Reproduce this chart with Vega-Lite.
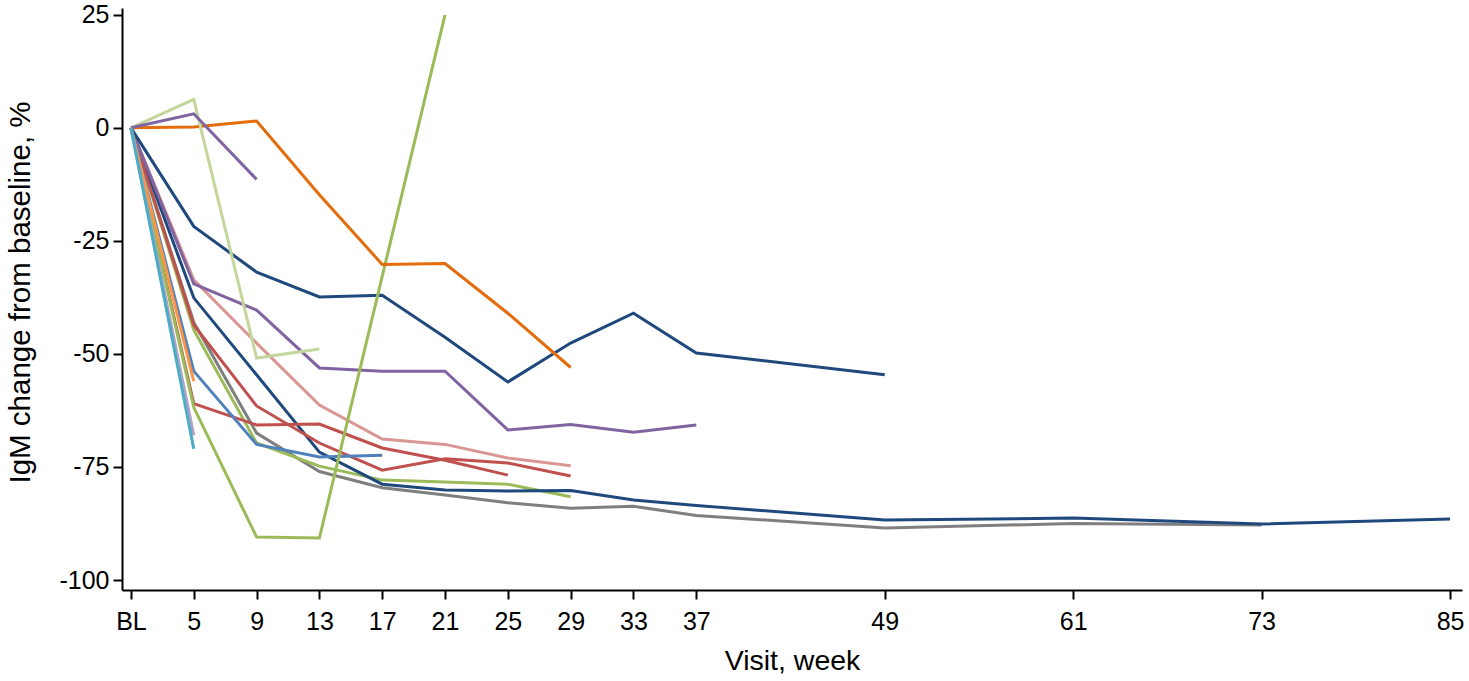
{
  "$schema": "https://vega.github.io/schema/vega-lite/v6.json",
  "width": 1340,
  "height": 582,
  "autosize": {"type": "none"},
  "padding": {"left": 122, "top": 8, "right": 7, "bottom": 91},
  "background": "white",
  "config": {
    "view": {"stroke": null},
    "font": "Liberation Sans",
    "axis": {"labelFont": "Liberation Sans", "titleFont": "Liberation Sans", "labelColor": "black", "titleColor": "black", "titleFontWeight": "normal", "domainColor": "black", "tickColor": "black", "domainWidth": 2, "tickWidth": 2, "grid": false}
  },
  "data": {
    "values": [
      {"id": "s10", "week": 1, "v": 0}, {"id": "s10", "week": 5, "v": -43}, {"id": "s10", "week": 9, "v": -67.5}, {"id": "s10", "week": 13, "v": -76}, {"id": "s10", "week": 17, "v": -79.6}, {"id": "s10", "week": 21, "v": -81.2}, {"id": "s10", "week": 25, "v": -82.9}, {"id": "s10", "week": 29, "v": -84.1}, {"id": "s10", "week": 33, "v": -83.7}, {"id": "s10", "week": 37, "v": -85.7}, {"id": "s10", "week": 49, "v": -88.5}, {"id": "s10", "week": 61, "v": -87.5}, {"id": "s10", "week": 73, "v": -87.8},
      {"id": "s11", "week": 1, "v": 0}, {"id": "s11", "week": 5, "v": -44.7}, {"id": "s11", "week": 9, "v": -69.7}, {"id": "s11", "week": 13, "v": -74.8}, {"id": "s11", "week": 17, "v": -77.9}, {"id": "s11", "week": 21, "v": -78.3}, {"id": "s11", "week": 25, "v": -78.8}, {"id": "s11", "week": 29, "v": -81.6},
      {"id": "s9", "week": 1, "v": 0}, {"id": "s9", "week": 5, "v": -37.6}, {"id": "s9", "week": 9, "v": -54.6}, {"id": "s9", "week": 13, "v": -71.7}, {"id": "s9", "week": 17, "v": -78.8}, {"id": "s9", "week": 21, "v": -80.1}, {"id": "s9", "week": 25, "v": -80.3}, {"id": "s9", "week": 29, "v": -80.2}, {"id": "s9", "week": 33, "v": -82.3}, {"id": "s9", "week": 37, "v": -83.5}, {"id": "s9", "week": 49, "v": -86.7}, {"id": "s9", "week": 61, "v": -86.3}, {"id": "s9", "week": 73, "v": -87.6}, {"id": "s9", "week": 85, "v": -86.5},
      {"id": "s7", "week": 1, "v": 0}, {"id": "s7", "week": 5, "v": -43.6}, {"id": "s7", "week": 9, "v": -61.5}, {"id": "s7", "week": 13, "v": -69.7}, {"id": "s7", "week": 17, "v": -75.7}, {"id": "s7", "week": 21, "v": -73.2}, {"id": "s7", "week": 25, "v": -74.1}, {"id": "s7", "week": 29, "v": -77},
      {"id": "s8", "week": 1, "v": 0}, {"id": "s8", "week": 5, "v": -61}, {"id": "s8", "week": 9, "v": -65.7}, {"id": "s8", "week": 13, "v": -65.5}, {"id": "s8", "week": 17, "v": -70.8}, {"id": "s8", "week": 21, "v": -73.5}, {"id": "s8", "week": 25, "v": -76.8},
      {"id": "s6", "week": 1, "v": 0}, {"id": "s6", "week": 5, "v": -33.6}, {"id": "s6", "week": 9, "v": -47.6}, {"id": "s6", "week": 13, "v": -61.3}, {"id": "s6", "week": 17, "v": -68.8}, {"id": "s6", "week": 21, "v": -70}, {"id": "s6", "week": 25, "v": -73}, {"id": "s6", "week": 29, "v": -74.7},
      {"id": "s5", "week": 1, "v": 0}, {"id": "s5", "week": 5, "v": -34.5}, {"id": "s5", "week": 9, "v": -40.3}, {"id": "s5", "week": 13, "v": -53.1}, {"id": "s5", "week": 17, "v": -53.8}, {"id": "s5", "week": 21, "v": -53.8}, {"id": "s5", "week": 25, "v": -66.8}, {"id": "s5", "week": 29, "v": -65.6}, {"id": "s5", "week": 33, "v": -67.3}, {"id": "s5", "week": 37, "v": -65.7},
      {"id": "s4", "week": 1, "v": 0}, {"id": "s4", "week": 5, "v": -21.8}, {"id": "s4", "week": 9, "v": -31.9}, {"id": "s4", "week": 13, "v": -37.4}, {"id": "s4", "week": 17, "v": -37}, {"id": "s4", "week": 21, "v": -46.3}, {"id": "s4", "week": 25, "v": -56.2}, {"id": "s4", "week": 29, "v": -47.6}, {"id": "s4", "week": 33, "v": -41}, {"id": "s4", "week": 37, "v": -49.8}, {"id": "s4", "week": 49, "v": -54.6},
      {"id": "s13", "week": 1, "v": 0}, {"id": "s13", "week": 5, "v": -53.8}, {"id": "s13", "week": 9, "v": -70}, {"id": "s13", "week": 13, "v": -72.8}, {"id": "s13", "week": 17, "v": -72.4},
      {"id": "s12", "week": 1, "v": 0}, {"id": "s12", "week": 5, "v": -61.8}, {"id": "s12", "week": 9, "v": -90.5}, {"id": "s12", "week": 13, "v": -90.7}, {"id": "s12", "week": 21, "v": 25},
      {"id": "s1", "week": 1, "v": 0}, {"id": "s1", "week": 5, "v": 0.2}, {"id": "s1", "week": 9, "v": 1.5}, {"id": "s1", "week": 13, "v": -14.8}, {"id": "s1", "week": 17, "v": -30.2}, {"id": "s1", "week": 21, "v": -30}, {"id": "s1", "week": 25, "v": -41}, {"id": "s1", "week": 29, "v": -53},
      {"id": "s2", "week": 1, "v": 0}, {"id": "s2", "week": 5, "v": 6.3}, {"id": "s2", "week": 9, "v": -50.9}, {"id": "s2", "week": 13, "v": -48.9},
      {"id": "s3", "week": 1, "v": 0}, {"id": "s3", "week": 5, "v": 3.1}, {"id": "s3", "week": 9, "v": -11.4},
      {"id": "s14", "week": 1, "v": 0}, {"id": "s14", "week": 5, "v": -56},
      {"id": "s15", "week": 1, "v": 0}, {"id": "s15", "week": 5, "v": -68},
      {"id": "s16", "week": 1, "v": 0}, {"id": "s16", "week": 5, "v": -71}
    ]
  },
  "mark": {"type": "line", "strokeWidth": 3, "clip": true},
  "encoding": {
    "x": {
      "field": "week", "type": "quantitative",
      "scale": {"domain": [0.43, 85.76], "nice": false, "zero": false},
      "axis": {
        "title": "Visit, week", "titleFontSize": 28.5, "titlePadding": 12,
        "values": [1, 5, 9, 13, 17, 21, 25, 29, 33, 37, 49, 61, 73, 85],
        "labelExpr": "datum.value == 1 ? 'BL' : datum.label",
        "labelFontSize": 25, "labelPadding": 10, "tickSize": 9, "labelFlush": false
      }
    },
    "y": {
      "field": "v", "type": "quantitative",
      "scale": {"domain": [-102.2, 26.5], "nice": false, "zero": false},
      "axis": {
        "title": "IgM change from baseline, %", "titleFontSize": 29.5, "titlePadding": 23, "titleY": 284,
        "values": [-100, -75, -50, -25, 0, 25],
        "labelExpr": "datum.value < 0 ? '-' + abs(datum.value) : '' + datum.value",
        "labelFontSize": 25, "labelPadding": 4, "tickSize": 9, "labelFlush": false
      }
    },
    "color": {
      "field": "id", "type": "nominal", "legend": null,
      "scale": {
        "domain": ["s1", "s2", "s3", "s4", "s5", "s6", "s7", "s8", "s9", "s10", "s11", "s12", "s13", "s14", "s15", "s16"],
        "range": ["#E46C0A", "#C3D69B", "#8064A2", "#1F497D", "#8064A2", "#D99694", "#C0504D", "#C0504D", "#1F497D", "#7F7F7F", "#9BBB59", "#9BBB59", "#4F81BD", "#F79646", "#B3A2C7", "#4BACC6"]
      }
    }
  }
}
